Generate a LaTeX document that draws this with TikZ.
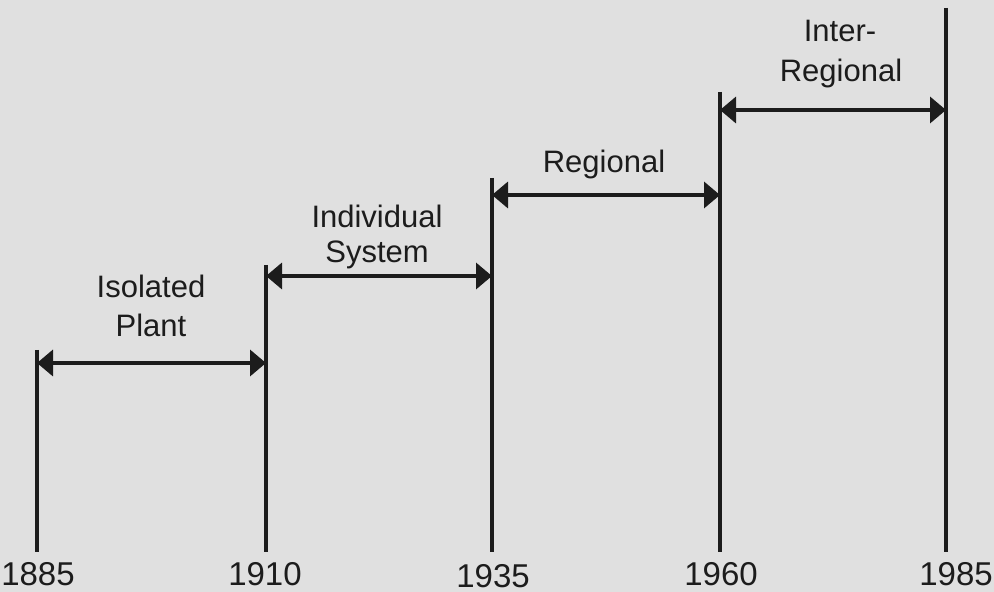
\documentclass[tikz,border=0pt]{standalone}
\usepackage{fontspec}
\setmainfont{Liberation Sans}
\usetikzlibrary{arrows.meta}
\definecolor{paper}{HTML}{E0E0E0}
\definecolor{ink}{HTML}{1C1C1C}
\begin{document}
\begin{tikzpicture}[x=0.5pt,y=-0.5pt,
    era/.style = {line width=2pt, color=ink},
    span/.style = {{Triangle[length=8pt,width=13pt]}-{Triangle[length=8pt,width=13pt]}, line width=1.8pt, color=ink},
    lbl/.style = {anchor=base, inner sep=0pt, text=ink, font=\fontsize{15.5}{18}\selectfont},
    year/.style = {lbl, font=\fontsize{16.5}{18}\selectfont}]
                \fill[paper] (0,0) rectangle (994,592);
                \useasboundingbox (0,0) rectangle (994,592);
                % ends of the year lines
                \coordinate (top1) at (37,350);  \coordinate (bot1) at (37,552);
                \coordinate (top2) at (266,265); \coordinate (bot2) at (266,552);
                \coordinate (top3) at (492,178); \coordinate (bot3) at (492,552);
                \coordinate (top4) at (720,92);  \coordinate (bot4) at (720,552);
                \coordinate (top5) at (946,8);   \coordinate (bot5) at (946,552);
                % ends of the spans
                \coordinate (s1) at (37,363);  \coordinate (e1) at (266,363);
                \coordinate (s2) at (266,276); \coordinate (e2) at (492,276);
                \coordinate (s3) at (492,195); \coordinate (e3) at (720,195);
                \coordinate (s4) at (720,110); \coordinate (e4) at (946,110);
                \draw[era] (top1) -- (bot1);
                \draw[era] (top2) -- (bot2);
                \draw[era] (top3) -- (bot3);
                \draw[era] (top4) -- (bot4);
                \draw[era] (top5) -- (bot5);
                \draw[span] (s1) -- (e1);
                \draw[span] (s2) -- (e2);
                \draw[span] (s3) -- (e3);
                \draw[span] (s4) -- (e4);
                \node[lbl] (iso)   at (151,298) {Isolated};
                \node[lbl] (plant) at (151,337) {Plant};
                \node[lbl] (ind)   at (377,228) {Individual};
                \node[lbl] (sys)   at (377,263) {System};
                \node[lbl] (reg)   at (604,173) {Regional};
                \node[lbl] (inter) at (840,42)  {Inter-};
                \node[lbl] (ireg)  at (841,82)  {Regional};
                \node[year] (y1885) at (38,585)  {1885};
                \node[year] (y1910) at (265,585) {1910};
                \node[year] (y1935) at (493,587) {1935};
                \node[year] (y1960) at (721,585) {1960};
                \node[year] (y1985) at (956,585) {1985};
            \end{tikzpicture}
\end{document}
